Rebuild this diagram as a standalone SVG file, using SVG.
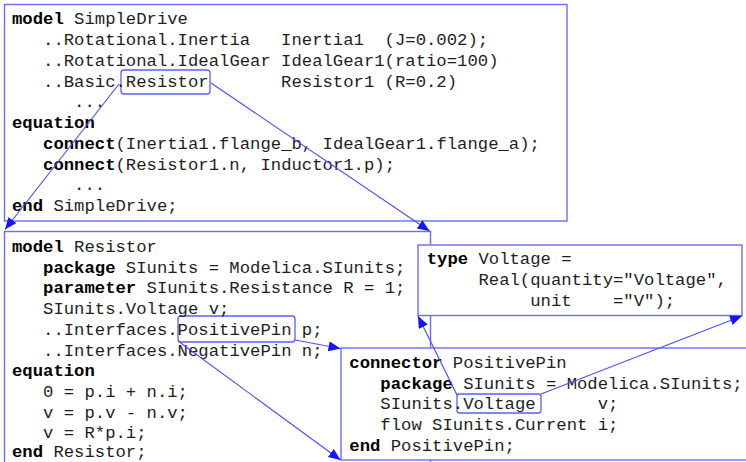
<svg xmlns="http://www.w3.org/2000/svg" width="746" height="462" viewBox="0 0 746 462">
  <style>
    .box { fill: #ffffff; stroke: #6b6bff; stroke-width: 1.4; }
    .hl { fill: none; stroke: #5c5cff; stroke-width: 1.3; }
    .edge { fill: none; stroke: #4f4fff; stroke-width: 1.2; }
    text { font-family: "Liberation Mono", "Courier New", monospace; font-size: 17.25px; fill: #1e1e1e; }
    .kw { font-weight: bold; fill: #000000; }
  </style>
  <defs>
    <marker id="arrow" markerUnits="userSpaceOnUse" markerWidth="14" markerHeight="12" refX="12" refY="5" orient="auto">
      <path d="M0,0 L12,5 L0,10 Z" fill="#1414ff"/>
    </marker>
  </defs>

  <!-- model SimpleDrive -->
  <g id="simpledrive">
    <rect class="box" x="4.5" y="4.5" width="562.5" height="216.5"/>
    <rect class="hl" x="121" y="70" width="89" height="24" rx="3"/>
    <text y="24"><tspan x="12" class="kw">model</tspan><tspan x="74.1">SimpleDrive</tspan></text>
    <text y="45"><tspan x="43.05">..Rotational.Inertia</tspan><tspan x="281.1">Inertia1</tspan><tspan x="384.6">(J=0.002);</tspan></text>
    <text y="66"><tspan x="43.05">..Rotational.IdealGear</tspan><tspan x="281.1">IdealGear1(ratio=100)</tspan></text>
    <text y="86.5"><tspan x="43.05">..Basic.Resistor</tspan><tspan x="281.1">Resistor1</tspan><tspan x="384.6">(R=0.2)</tspan></text>
    <text y="107"><tspan x="74.1">...</tspan></text>
    <text y="128"><tspan x="12" class="kw">equation</tspan></text>
    <text y="149"><tspan x="43.05" class="kw">connect</tspan><tspan x="115.5">(Inertia1.flange_b, IdealGear1.flange_a);</tspan></text>
    <text y="170"><tspan x="43.05" class="kw">connect</tspan><tspan x="115.5">(Resistor1.n, Inductor1.p);</tspan></text>
    <text y="190"><tspan x="74.1">...</tspan></text>
    <text y="211"><tspan x="12" class="kw">end</tspan><tspan x="53.4">SimpleDrive;</tspan></text>
  </g>

  <!-- model Resistor -->
  <g id="resistor">
    <rect class="box" x="4.5" y="231.5" width="426" height="250"/>
    <rect class="hl" x="178" y="316" width="117" height="26" rx="3"/>
    <text y="252"><tspan x="12" class="kw">model</tspan><tspan x="74.1">Resistor</tspan></text>
    <text y="272.5"><tspan x="43.05" class="kw">package</tspan><tspan x="125.85">SIunits = Modelica.SIunits;</tspan></text>
    <text y="293"><tspan x="43.05" class="kw">parameter</tspan><tspan x="146.55">SIunits.Resistance R = 1;</tspan></text>
    <text y="314"><tspan x="43.05">SIunits.Voltage v;</tspan></text>
    <text y="335"><tspan x="43.05">..Interfaces.PositivePin p;</tspan></text>
    <text y="355.5"><tspan x="43.05">..Interfaces.NegativePin n;</tspan></text>
    <text y="376"><tspan x="12" class="kw">equation</tspan></text>
    <text y="397"><tspan x="43.05">0 = p.i + n.i;</tspan></text>
    <text y="417.5"><tspan x="43.05">v = p.v - n.v;</tspan></text>
    <text y="438"><tspan x="43.05">v = R*p.i;</tspan></text>
    <text y="457"><tspan x="12" class="kw">end</tspan><tspan x="53.4">Resistor;</tspan></text>
  </g>

  <!-- type Voltage -->
  <g id="voltage">
    <rect class="box" x="418" y="245" width="324" height="70.5"/>
    <text y="264"><tspan x="426.7" class="kw">type</tspan><tspan x="478.45">Voltage =</tspan></text>
    <text y="285"><tspan x="478.45">Real(quantity="Voltage",</tspan></text>
    <text y="306"><tspan x="530.2">unit</tspan><tspan x="613">="V");</tspan></text>
  </g>

  <!-- connector PositivePin -->
  <g id="positivepin">
    <rect class="box" x="341" y="348" width="420" height="112"/>
    <rect class="hl" x="457" y="394" width="84" height="19" rx="2.5"/>
    <text y="368"><tspan x="349.3" class="kw">connector</tspan><tspan x="452.8">PositivePin</tspan></text>
    <text y="388.5"><tspan x="380.35" class="kw">package</tspan><tspan x="463.15">SIunits = Modelica.SIunits;</tspan></text>
    <text y="409"><tspan x="380.35">SIunits.Voltage</tspan><tspan x="597.7">v;</tspan></text>
    <text y="430"><tspan x="380.35">flow SIunits.Current i;</tspan></text>
    <text y="450.5"><tspan x="349.3" class="kw">end</tspan><tspan x="390.7">PositivePin;</tspan></text>
  </g>

  <!-- references from a used class name to its definition -->
  <g id="connectors">
    <line class="edge" x1="119" y1="84" x2="5" y2="229.5" marker-end="url(#arrow)"/>
    <line class="edge" x1="211" y1="83" x2="429.5" y2="231" marker-end="url(#arrow)"/>
    <line class="edge" x1="295" y1="340" x2="340.5" y2="348.5" marker-end="url(#arrow)"/>
    <line class="edge" x1="178" y1="341" x2="340.5" y2="460" marker-end="url(#arrow)"/>
    <line class="edge" x1="457" y1="395" x2="418" y2="316" marker-end="url(#arrow)"/>
    <line class="edge" x1="541" y1="394" x2="742" y2="316" marker-end="url(#arrow)"/>
  </g>
</svg>
